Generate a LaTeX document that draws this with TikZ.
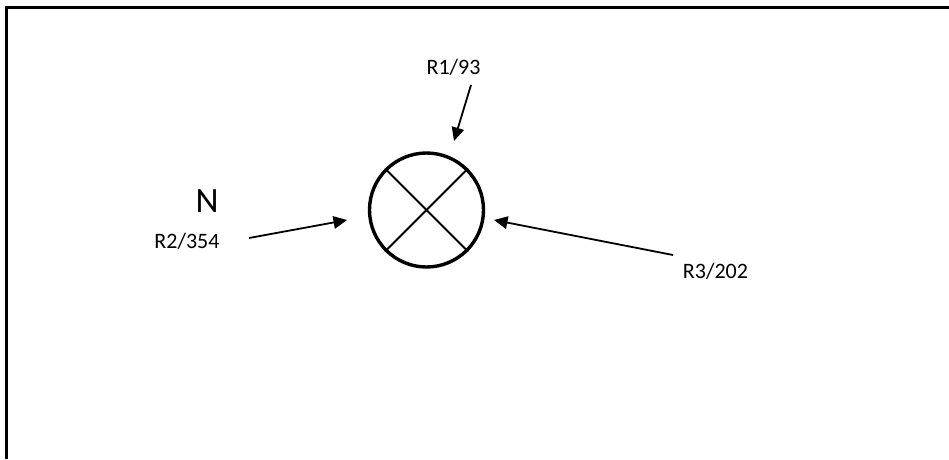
\documentclass[tikz,border=0pt]{standalone}
\usepackage{fontspec}
\setmainfont{Carlito}
\usetikzlibrary{arrows.meta}
\tikzstyle{etiqueta} = [inner sep=0pt, font=\fontsize{22}{24}\selectfont]
\tikzstyle{flecha} = [line width=1.8pt, -{Triangle[length=13.5pt,width=12.5pt]}]
\begin{document}
\begin{tikzpicture}[x=1pt, y=-1pt]
	\useasboundingbox (0,0) rectangle (949,459);
	\draw[line width=3.2pt] (6.5,459) -- (6.5,7.5) -- (949,7.5);
	\node[circle, draw, line width=3.4pt, minimum size=114pt, inner sep=0pt] (lamp) at (426.5,210) {};
	\draw[line width=2pt] (lamp.north west) -- (lamp.south east);
	\draw[line width=2pt] (lamp.south west) -- (lamp.north east);
	\node[etiqueta] (r1) at (453.5,67) {R1/93};
	\node[etiqueta] (r2) at (187,241.5) {R2/354};
	\node[etiqueta] (r3) at (715.5,271) {R3/202};
	\node[inner sep=0pt, font=\fontsize{35.6}{38}\selectfont] (norte) at (207,201) {N};
	\coordinate (r1ini) at (471,85);
	\coordinate (r1fin) at (454,141);
	\coordinate (r2ini) at (249,238);
	\coordinate (r2fin) at (347,220);
	\coordinate (r3ini) at (673,255);
	\coordinate (r3fin) at (494,220);
	\draw[flecha] (r1ini) -- (r1fin);
	\draw[flecha] (r2ini) -- (r2fin);
	\draw[flecha] (r3ini) -- (r3fin);
\end{tikzpicture}
\end{document}
